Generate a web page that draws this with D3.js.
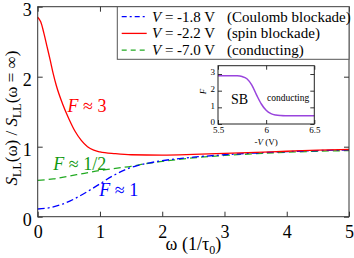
<!doctype html>
<html lang="en">
  <head>
    <meta charset="utf-8">
    <title>Noise ratio vs frequency</title>
    <script src="https://d3js.org/d3.v7.min.js"></script>
    <style>
      body { margin: 0; background: #fff; }
      text { font-family: "Liberation Serif", "Times New Roman", serif; }
    </style>
  </head>
  <body>
    <div id="container"></div>
  <script>
    // main panel data: omega (1/tau0) against S_LL(omega)/S_LL(inf)
    const omegaRed = [0, 0.05, 0.1, 0.15, 0.2, 0.25, 0.3, 0.4, 0.5, 0.6, 0.7, 0.8, 0.9, 1.0, 1.25, 1.5, 2, 2.5, 3, 3.5, 4, 4.5, 5]
    const spinBlockade = [2.85, 2.78, 2.62, 2.43, 2.24, 2.04, 1.87, 1.61, 1.40, 1.22, 1.09, 1.0, 0.95, 0.925, 0.9, 0.885, 0.88, 0.89, 0.905, 0.92, 0.935, 0.95, 0.96]
    const omegaBlue = [0, 0.2, 0.4, 0.6, 0.8, 1.0, 1.2, 1.4, 1.6, 1.8, 2.0, 2.5, 3, 3.5, 4, 4.5, 5]
    const coulombBlockade = [0.11, 0.13, 0.18, 0.26, 0.36, 0.47, 0.58, 0.67, 0.73, 0.77, 0.8, 0.85, 0.885, 0.91, 0.93, 0.945, 0.955]
    const omegaGreen = [0, 0.25, 0.5, 0.75, 1.0, 1.25, 1.5, 1.75, 2.0, 2.5, 3, 3.5, 4, 4.5, 5]
    const conducting = [0.52, 0.54, 0.58, 0.62, 0.66, 0.69, 0.72, 0.76, 0.79, 0.84, 0.875, 0.9, 0.92, 0.935, 0.945]

    // inset data: F against -V
    const insetVoltage = [5.5, 5.6, 5.7, 5.75, 5.8, 5.85, 5.9, 5.95, 6.0, 6.05, 6.1, 6.15, 6.2, 6.3, 6.4, 6.5]
    const fanoFactor = [2.9, 2.9, 2.89, 2.85, 2.72, 2.35, 1.75, 1.2, 0.82, 0.62, 0.54, 0.51, 0.5, 0.5, 0.5, 0.5]

    const xTicks = [0, 1, 2, 3, 4, 5]
    const yTicks = [0, 1, 2, 3]
    const insetXTicks = [5.5, 6, 6.5]
    const insetYTicks = [0, 1, 2, 3]

    const legendVoltages = ["-1.8", "-2.2", "-7.0"]
    const legendNames = ["(Coulomb blockade)", "(spin blockade)", "(conducting)"]

    const width = 354
    const height = 258
    const margin = {top: 6.7, right: 5, bottom: 41.3, left: 37.7}
    const plotW = width - margin.left - margin.right
    const plotH = height - margin.top - margin.bottom

    const svg = d3.select("#container")
    .append("svg")
      .attr("width", width)
      .attr("height", height)

    const plot = svg.append("g")
      .attr("transform", `translate(${margin.left},${margin.top})`)

    const x = d3.scaleLinear().domain([0, 5]).range([0, plotW])
    const y = d3.scaleLinear().domain([0, 3]).range([plotH, 0])

    // axes with inward ticks, mirrored on top/right
    function styleAxis(g, size) {
      g.select(".domain").remove()
      g.selectAll("line").attr("stroke", "#333")
      g.selectAll("text").attr("font-family", "Liberation Serif").attr("font-size", size).attr("fill", "#000")
    }

    plot.append("g")
      .attr("transform", `translate(0,${plotH})`)
      .call(d3.axisBottom(x).tickValues(xTicks).tickSize(-5).tickPadding(9).tickFormat(d3.format("d")))
      .call(g => styleAxis(g, 18))
    plot.append("g")
      .call(d3.axisTop(x).tickValues(xTicks).tickSize(-5).tickFormat(""))
      .call(g => styleAxis(g, 18))
    plot.append("g")
      .call(d3.axisLeft(y).tickValues(yTicks).tickSize(-5).tickPadding(6).tickFormat(d3.format("d")))
      .call(g => styleAxis(g, 18))
      .call(g => g.selectAll("text").attr("dy", "0.5em"))
    plot.append("g")
      .attr("transform", `translate(${plotW},0)`)
      .call(d3.axisRight(y).tickValues(yTicks).tickSize(-5).tickFormat(""))
      .call(g => styleAxis(g, 18))

    function drawCurve(xs, ys, color, dash) {
      const line = d3.line()
        .x((d, i) => x(xs[i]))
        .y(d => y(d))
        .curve(d3.curveMonotoneX)
      plot.append("path")
        .datum(ys)
        .attr("d", line)
        .attr("fill", "none")
        .attr("stroke", color)
        .attr("stroke-width", 1.3)
        .attr("stroke-dasharray", dash)
    }

    drawCurve(omegaGreen, conducting, "#22aa22", "7,4")
    drawCurve(omegaBlue, coulombBlockade, "#0000ff", "7,3,2,3")
    drawCurve(omegaRed, spinBlockade, "#ff0000", null)

    plot.append("rect")
      .attr("width", plotW)
      .attr("height", plotH)
      .attr("fill", "none")
      .attr("stroke", "#333")
      .attr("stroke-width", 1)

    // annotations
    function annotate(xv, yv, color, rest) {
      const t = plot.append("text")
        .attr("x", x(xv))
        .attr("y", y(yv))
        .attr("font-size", 18)
        .attr("fill", color)
      t.append("tspan").attr("font-style", "italic").text("F")
      t.append("tspan").text(" ≈ " + rest)
    }
    annotate(0.48, 1.5, "#ff0000", "3")
    annotate(0.25, 0.66, "#119911", "1/2")
    annotate(0.99, 0.3, "#0000ff", "1")

    // axis labels
    const xLabel = svg.append("text")
      .attr("x", margin.left + plotW / 2)
      .attr("y", 250)
      .attr("text-anchor", "middle")
      .attr("font-size", 18)
    xLabel.append("tspan").text("ω  (1/τ")
    xLabel.append("tspan").attr("font-size", 12).attr("dy", 4).text("0")
    xLabel.append("tspan").attr("dy", -4).text(")")

    const yLabel = svg.append("text")
      .attr("transform", `translate(17,118) rotate(-90)`)
      .attr("text-anchor", "middle")
      .attr("font-size", 17)
    yLabel.append("tspan").attr("font-style", "italic").text("S")
    yLabel.append("tspan").attr("font-size", 12).attr("dy", 4).text("LL")
    yLabel.append("tspan").attr("dy", -4).text("(ω) / ")
    yLabel.append("tspan").attr("font-style", "italic").text("S")
    yLabel.append("tspan").attr("font-size", 12).attr("dy", 4).text("LL")
    yLabel.append("tspan").attr("dy", -4).text("(ω = ∞)")

    // legend
    const legendX = 117.3 - margin.left
    const legend = plot.append("g").attr("transform", `translate(${legendX},0)`)
    legend.append("rect")
      .attr("width", plotW - legendX)
      .attr("height", 52.6)
      .attr("fill", "#fff")
      .attr("stroke", "#555")
      .attr("stroke-width", 1)
    const legendColors = ["#0000ff", "#ff0000", "#22aa22"]
    const legendDash = ["5,3,2,3", null, "5,4"]
    legendVoltages.forEach((v, i) => {
      const ly = 10 + i * 16.7
      legend.append("line")
        .attr("x1", 4.4).attr("x2", 29.4)
        .attr("y1", ly).attr("y2", ly)
        .attr("stroke", legendColors[i])
        .attr("stroke-width", 1.3)
        .attr("stroke-dasharray", legendDash[i])
      const t = legend.append("text")
        .attr("x", 34.7)
        .attr("y", ly + 5)
        .attr("font-size", 15)
      t.append("tspan").attr("font-style", "italic").text("V")
      t.append("tspan").text(` = ${v} V`)
      legend.append("text")
        .attr("x", 109.7)
        .attr("y", ly + 5)
        .attr("font-size", 15)
        .text(legendNames[i])
    })

    // inset
    const inset = {left: 218, top: 65.7, right: 314.3, bottom: 124}
    const ix = d3.scaleLinear().domain([5.5, 6.5]).range([inset.left, inset.right])
    const iy = d3.scaleLinear().domain([0, 3.5]).range([inset.bottom, inset.top])

    svg.append("rect")
      .attr("x", inset.left).attr("y", inset.top)
      .attr("width", inset.right - inset.left)
      .attr("height", inset.bottom - inset.top)
      .attr("fill", "#fff")

    svg.append("g")
      .attr("transform", `translate(0,${inset.bottom})`)
      .call(d3.axisBottom(ix).tickValues(insetXTicks).tickSize(-4).tickPadding(3).tickFormat(d => d))
      .call(g => styleAxis(g, 9))
    svg.append("g")
      .attr("transform", `translate(0,${inset.top})`)
      .call(d3.axisTop(ix).tickValues(insetXTicks).tickSize(-4).tickFormat(""))
      .call(g => styleAxis(g, 9))
    svg.append("g")
      .attr("transform", `translate(${inset.left},0)`)
      .call(d3.axisLeft(iy).tickValues(insetYTicks).tickSize(-4).tickPadding(3).tickFormat(d3.format("d")))
      .call(g => styleAxis(g, 9))
      .call(g => g.selectAll("text").attr("dy", "0.1em"))
    svg.append("g")
      .attr("transform", `translate(${inset.right},0)`)
      .call(d3.axisRight(iy).tickValues(insetYTicks).tickSize(-4).tickFormat(""))
      .call(g => styleAxis(g, 9))

    const insetLine = d3.line()
      .x((d, i) => ix(insetVoltage[i]))
      .y(d => iy(d))
      .curve(d3.curveMonotoneX)
    svg.append("path")
      .datum(fanoFactor)
      .attr("d", insetLine)
      .attr("fill", "none")
      .attr("stroke", "#9944dd")
      .attr("stroke-width", 1.5)

    svg.append("rect")
      .attr("x", inset.left).attr("y", inset.top)
      .attr("width", inset.right - inset.left)
      .attr("height", inset.bottom - inset.top)
      .attr("fill", "none")
      .attr("stroke", "#222")
      .attr("stroke-width", 1)

    svg.append("text")
      .attr("x", 231).attr("y", 104)
      .attr("font-size", 14)
      .text("SB")
    svg.append("text")
      .attr("x", 267).attr("y", 101)
      .attr("font-size", 9.5)
      .text("conducting")
    svg.append("text")
      .attr("transform", `translate(206,${iy(1.95)}) rotate(-90)`)
      .attr("text-anchor", "middle")
      .attr("font-size", 9)
      .attr("font-style", "italic")
      .text("F")
    const ixLabel = svg.append("text")
      .attr("x", ix(6))
      .attr("y", 145)
      .attr("text-anchor", "middle")
      .attr("font-size", 9)
    ixLabel.append("tspan").text("-")
    ixLabel.append("tspan").attr("font-style", "italic").text("V")
    ixLabel.append("tspan").text(" (V)")
  </script>
  </body>
</html>
